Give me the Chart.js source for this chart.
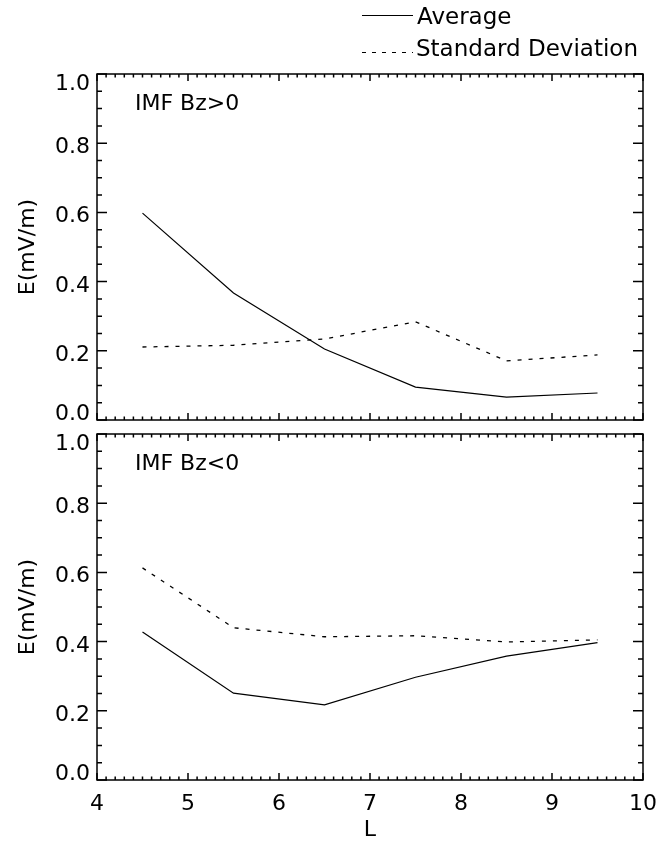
<!DOCTYPE html>
<html>
<head>
<meta charset="utf-8">
<title>E field vs L</title>
<script src="https://cdn.jsdelivr.net/npm/chart.js@4.4.1/dist/chart.umd.min.js"></script>
<style>
    html, body { margin: 0; padding: 0; background: #fff; }
    #wrap { position: relative; width: 672px; height: 843px; overflow: hidden; font-family: "DejaVu Sans", sans-serif; color: #000; }
    canvas { position: absolute; left: 0; }
    #topCanvas { top: 0; }
    #bottomCanvas { top: 394px; }
    .txt { position: absolute; white-space: nowrap; line-height: 22px; font-size: 22px; }
    .legend-txt { font-size: 23px; line-height: 23px; }
    .sample { position: absolute; left: 362px; width: 51px; height: 1.3px; }
    .solid { background: #000; }
    .dashed { background: repeating-linear-gradient(to right, #000 0 4px, transparent 4px 10px); }
</style>
</head>
<body>
<div id="wrap">
    <canvas id="topCanvas" width="672" height="460"></canvas>
    <canvas id="bottomCanvas" width="672" height="449"></canvas>

    <div class="sample solid" style="top:15px"></div>
    <div class="txt legend-txt" style="left:417px; top:5px">Average</div>
    <div class="sample dashed" style="top:52px"></div>
    <div class="txt legend-txt" style="left:416px; top:37px">Standard Deviation</div>

    <div class="txt" style="left:135px; top:92px">IMF Bz&gt;0</div>
    <div class="txt" style="left:135px; top:452px">IMF Bz&lt;0</div>
</div>

<script>
// L shells where the averages were taken
const lValues = [4.5, 5.5, 6.5, 7.5, 8.5, 9.5];

// IMF Bz > 0
const avgBzPos = [0.598, 0.367, 0.205, 0.095, 0.066, 0.078];
const stdBzPos = [0.211, 0.216, 0.234, 0.284, 0.171, 0.188];

// IMF Bz < 0
const avgBzNeg = [0.428, 0.251, 0.217, 0.297, 0.358, 0.397];
const stdBzNeg = [0.613, 0.440, 0.414, 0.417, 0.399, 0.405];

// tick labels
const xTickLabels = ['4', '5', '6', '7', '8', '9', '10'];
const yTickLabels = ['0.0', '0.2', '0.4', '0.6', '0.8', '1.0'];

const FONT = '"DejaVu Sans", sans-serif';

// IDL-style frame: box, inward ticks on all four sides, hand-placed labels
const frameTicks = {
    id: 'frameTicks',
    afterDatasetsDraw(chart, args, opts) {
        const { ctx, chartArea: a, scales: { x, y } } = chart;
        ctx.save();
        ctx.strokeStyle = '#000';
        ctx.lineWidth = 1.5;
        ctx.strokeRect(a.left, a.top, a.right - a.left, a.bottom - a.top);

        ctx.beginPath();
        // x ticks every 0.1, major every 1
        for (let i = 0; i <= 60; i++) {
            const px = x.getPixelForValue(x.min + i / 10);
            const len = i % 10 === 0 ? 7 : 3.5;
            ctx.moveTo(px, a.bottom); ctx.lineTo(px, a.bottom - len);
            ctx.moveTo(px, a.top); ctx.lineTo(px, a.top + len);
        }
        // y ticks every 0.05, major every 0.2
        for (let i = 0; i <= 20; i++) {
            const py = y.getPixelForValue(y.min + i * 0.05);
            const len = i % 4 === 0 ? 10 : 5;
            ctx.moveTo(a.left, py); ctx.lineTo(a.left + len, py);
            ctx.moveTo(a.right, py); ctx.lineTo(a.right - len, py);
        }
        ctx.stroke();

        ctx.fillStyle = '#000';
        ctx.font = '22px ' + FONT;
        ctx.textBaseline = 'alphabetic';
        ctx.textAlign = 'right';
        yTickLabels.forEach((lab, i) => {
            const py = y.getPixelForValue(i * 0.2);
            let dy = 10;
            if (i === 0) dy = 0;
            if (i === yTickLabels.length - 1) dy = 16;
            ctx.fillText(lab, a.left - 7, py + dy);
        });

        if (opts.xLabels) {
            ctx.textAlign = 'center';
            xTickLabels.forEach((lab, i) => {
                ctx.fillText(lab, x.getPixelForValue(4 + i), a.bottom + 30);
            });
        }
        ctx.restore();
    }
};

function makePanel(canvasId, avg, std, isBottom) {
    const ctx = document.getElementById(canvasId).getContext('2d');
    return new Chart(ctx, {
        type: 'line',
        data: {
            datasets: [{
                label: 'Average',
                data: lValues.map((l, i) => ({ x: l, y: avg[i] })),
                borderColor: '#000',
                borderWidth: 1.2,
                pointRadius: 0,
                tension: 0
            }, {
                label: 'Standard Deviation',
                data: lValues.map((l, i) => ({ x: l, y: std[i] })),
                borderColor: '#000',
                borderWidth: 1.3,
                borderDash: [4, 7],
                pointRadius: 0,
                tension: 0
            }]
        },
        options: {
            responsive: false,
            animation: false,
            devicePixelRatio: 1,
            layout: {
                padding: isBottom
                    ? { top: 40, right: 29, bottom: 0, left: 0 }
                    : { top: 74, right: 29, bottom: 40, left: 0 }
            },
            plugins: {
                legend: { display: false },
                tooltip: { enabled: false },
                frameTicks: { xLabels: isBottom }
            },
            scales: {
                x: {
                    type: 'linear',
                    min: 4,
                    max: 10,
                    display: isBottom,
                    grid: { display: false },
                    border: { display: false },
                    ticks: { display: false, stepSize: 1 },
                    title: {
                        display: true,
                        text: 'L',
                        color: '#000',
                        font: { family: FONT, size: 22 },
                        padding: { top: 0, bottom: 0 }
                    },
                    afterFit(scale) { scale.height = isBottom ? 63 : 0; }
                },
                y: {
                    min: 0,
                    max: 1,
                    grid: { display: false },
                    border: { display: false },
                    ticks: { display: false, stepSize: 0.2 },
                    title: {
                        display: true,
                        text: 'E(mV/m)',
                        color: '#000',
                        font: { family: FONT, size: 22 },
                        padding: { top: 15, bottom: 0 }
                    },
                    afterFit(scale) { scale.width = 97; }
                }
            }
        },
        plugins: [frameTicks]
    });
}

makePanel('topCanvas', avgBzPos, stdBzPos, false);
makePanel('bottomCanvas', avgBzNeg, stdBzNeg, true);
</script>
</body>
</html>
